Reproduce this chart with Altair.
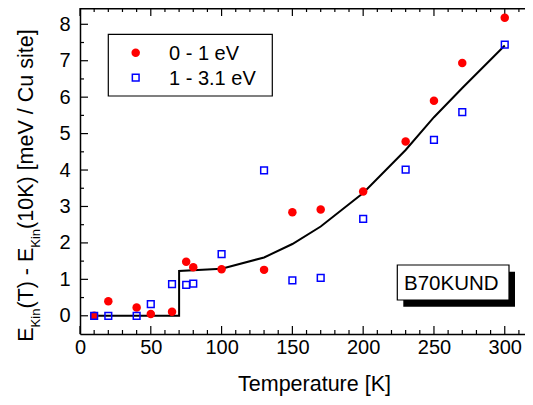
import altair as alt
import pandas as pd

# ---- data ----
T_red = [10, 20, 40, 50, 65, 75, 80, 100, 130, 150, 170, 200, 230, 250, 270, 300]
v_red = [0.0, 0.40, 0.23, 0.05, 0.11, 1.48, 1.33, 1.28, 1.26, 2.84, 2.92, 3.41, 4.78, 5.90, 6.94, 8.18]

T_blue = [10, 20, 40, 50, 65, 75, 80, 100, 130, 150, 170, 200, 230, 250, 270, 300]
v_blue = [0.0, 0.0, 0.0, 0.32, 0.87, 0.85, 0.88, 1.69, 3.99, 0.97, 1.04, 2.66, 4.01, 4.83, 5.59, 7.44]

T_fit = [10, 70, 70, 100, 130, 150, 170, 200, 230, 250, 270, 300]
v_fit = [0.0, 0.0, 1.23, 1.29, 1.60, 1.97, 2.45, 3.37, 4.55, 5.45, 6.25, 7.42]

x_major = [0, 50, 100, 150, 200, 250, 300]
x_minor = [10, 20, 30, 40, 60, 70, 80, 90, 110, 120, 130, 140, 160, 170, 180, 190,
           210, 220, 230, 240, 260, 270, 280, 290, 310]
y_major = [0, 1, 2, 3, 4, 5, 6, 7, 8]
y_minor = [0.5, 1.5, 2.5, 3.5, 4.5, 5.5, 6.5, 7.5]

series_labels = ["0 - 1 eV", "1 - 3.1 eV"]
sample_label = ["B70KUND"]
x_title = "Temperature [K]"
y_title_parts = ["E", "Kin", "(T) - E", "Kin", "(10K) [meV / Cu site]"]

# ---- layout ----
W, H = 445, 326
TOP = 0
FONT = "Liberation Sans"
xs = alt.Scale(domain=[0, 314.3], nice=False, zero=False)
ys = alt.Scale(domain=[-0.5, 8.447], nice=False, zero=False)

xaxis = alt.Axis(values=x_major, ticks=False, tickSize=0, grid=False, labelFlush=False,
                 domainColor="black", domainWidth=1.5,
                 labelFont=FONT, labelFontSize=20, labelColor="black", labelPadding=3,
                 title=x_title, titleFont=FONT, titleFontSize=21.5, titleFontWeight="normal",
                 titleColor="black", titleX=234, titleY=56, titleBaseline="alphabetic",
                 titleAlign="center")
yaxis = alt.Axis(values=y_major, ticks=False, tickSize=0, grid=False, labelFlush=False,
                 domainColor="black", domainWidth=1.5,
                 labelFont=FONT, labelFontSize=20, labelColor="black", labelPadding=10,
                 title=None)


def X(field):
    return alt.X(field, type="quantitative", scale=xs, axis=xaxis)


def Y(field):
    return alt.Y(field, type="quantitative", scale=ys, axis=yaxis)


red = pd.DataFrame({"T": T_red, "v": v_red})
blue = pd.DataFrame({"T": T_blue, "v": v_blue})
fit = pd.DataFrame({"T": T_fit, "v": v_fit, "i": list(range(len(T_fit)))})
one = pd.DataFrame({"a": [0]})

# page (px) -> plot coordinates helpers for annotation placement
def px(x):
    return x - 80


def py(y):
    return y - 8 - TOP


layers = []

# frame top
layers.append(alt.Chart(one).mark_rule(color="black", strokeWidth=1.5).encode(
    x=alt.value(0), x2=alt.value(W), y=alt.value(0.75)))

# x ticks (inward, bottom and top)
for vals, ln in ((x_major, 8), (x_minor, 4)):
    d = pd.DataFrame({"T": vals})
    layers.append(alt.Chart(d).mark_rule(color="black", strokeWidth=1.2).encode(
        x=X("T"), y=alt.value(H), y2=alt.value(H - ln)))
    layers.append(alt.Chart(d).mark_rule(color="black", strokeWidth=1.2).encode(
        x=X("T"), y=alt.value(0), y2=alt.value(ln)))

# y ticks (inward, left)
for vals, ln in ((y_major, 8), (y_minor, 4)):
    d = pd.DataFrame({"v": vals})
    layers.append(alt.Chart(d).mark_rule(color="black", strokeWidth=1.2).encode(
        y=Y("v"), x=alt.value(0), x2=alt.value(ln)))

# fit line
layers.append(alt.Chart(fit).mark_line(color="black", strokeWidth=2).encode(
    x=X("T"), y=Y("v"), order=alt.Order("i:Q")))

# data points
layers.append(alt.Chart(red).mark_point(shape="circle", filled=True, color="#ff0000",
                                        size=72, opacity=1).encode(x=X("T"), y=Y("v")))
layers.append(alt.Chart(blue).mark_point(shape="square", filled=False, color="#0000ff",
                                         size=45, strokeWidth=1.5, opacity=1).encode(
    x=X("T"), y=Y("v")))

# legend box
layers.append(alt.Chart(one).mark_rect(fill="white", stroke="black", strokeWidth=1.2).encode(
    x=alt.value(px(108.3)), x2=alt.value(px(272.3)), y=alt.value(py(34.3)), y2=alt.value(py(96))))
layers.append(alt.Chart(one).mark_point(shape="circle", filled=True, color="#ff0000",
                                        size=72, opacity=1).encode(
    x=alt.value(px(135.7)), y=alt.value(py(52.7))))
layers.append(alt.Chart(one).mark_point(shape="square", filled=False, color="#0000ff",
                                        size=45, strokeWidth=1.5, opacity=1).encode(
    x=alt.value(px(135.7)), y=alt.value(py(77.7))))
for lab, yy in zip(series_labels, (59.5, 84.5)):
    layers.append(alt.Chart(pd.DataFrame({"s": [lab]})).mark_text(
        font=FONT, fontSize=20, color="black", align="left", baseline="alphabetic").encode(
        text="s:N", x=alt.value(px(169)), y=alt.value(py(yy))))

# sample label box with shadow
layers.append(alt.Chart(one).mark_rect(fill="black").encode(
    x=alt.value(px(403.3)), x2=alt.value(px(515)), y=alt.value(py(271.7)), y2=alt.value(py(306.7))))
layers.append(alt.Chart(one).mark_rect(fill="white", stroke="black", strokeWidth=1.2).encode(
    x=alt.value(px(397.3)), x2=alt.value(px(509)), y=alt.value(py(265)), y2=alt.value(py(300))))
layers.append(alt.Chart(pd.DataFrame({"s": sample_label})).mark_text(
    font=FONT, fontSize=20.5, color="black", align="center", baseline="alphabetic").encode(
    text="s:N", x=alt.value(px(451.3)), y=alt.value(py(290))))

# y title with subscripts (rotated pieces)
pieces = [
    (y_title_parts[0], 341.7, 33, 21.5),
    (y_title_parts[1], 327.4, 40, 13),
    (y_title_parts[2], 308.6, 33, 21.5),
    (y_title_parts[3], 247.7, 40, 13),
    (y_title_parts[4], 228.9, 33, 21.5),
]
for txt, yy, xx, fs in pieces:
    layers.append(alt.Chart(pd.DataFrame({"s": [txt]})).mark_text(
        font=FONT, fontSize=fs, color="black", align="left", baseline="alphabetic",
        angle=270).encode(text="s:N", x=alt.value(px(xx)), y=alt.value(py(yy))))

chart = alt.layer(*layers).properties(
    width=W, height=H,
    padding={"left": 72, "top": TOP, "right": 0, "bottom": 62},
    autosize=alt.AutoSizeParams(type="none"),
).configure_view(stroke=None).configure(background="white")

chart.save("out.html", embed_options={"renderer": "svg", "actions": False})
